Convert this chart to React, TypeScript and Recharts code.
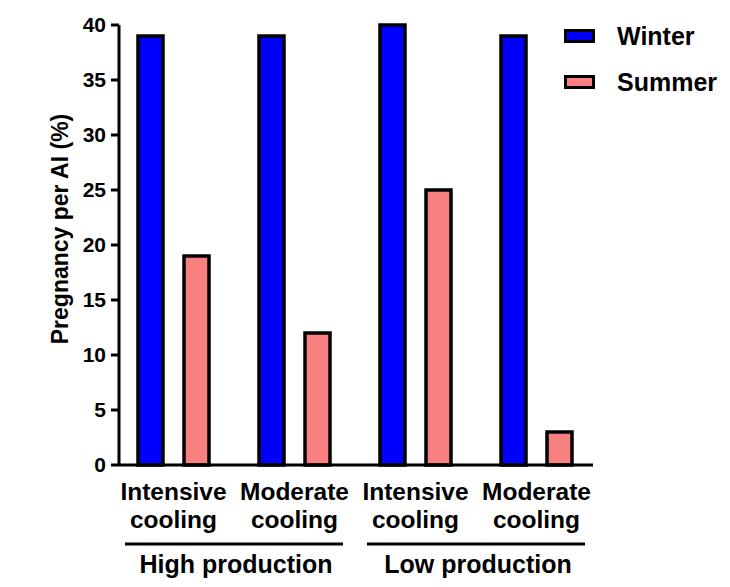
import { BarChart, Bar, XAxis, YAxis } from 'recharts'

const categories = ['Intensive cooling', 'Moderate cooling', 'Intensive cooling', 'Moderate cooling']
const groups = ['High production', 'Low production']
const winter = [39, 39, 40, 39]
const summer = [19, 12, 25, 3]
const yTicks = [0, 5, 10, 15, 20, 25, 30, 35, 40]

const series = [
  { key: 'Winter', color: '#0000FF' },
  { key: 'Summer', color: '#F88080' },
]

const data = categories.map((c, i) => ({ name: c, key: `c${i}`, Winter: winter[i], Summer: summer[i] }))

const FONT = '"Liberation Sans", Arial, sans-serif'
const BAND = 121

function CategoryTick(props: any) {
  const { x, y, index } = props
  const [l1, l2] = categories[index].split(' ')
  const gi = Math.floor(index / 2)
  const cx = x - BAND / 2
  return (
    <g fontFamily={FONT} fontWeight="bold" fill="#000">
      <text x={x} y={y + 35} textAnchor="middle" fontSize={24.5}>{l1}</text>
      <text x={x} y={y + 63} textAnchor="middle" fontSize={24.5}>{l2}</text>
      {index % 2 === 1 && (
        <g>
          <line x1={cx - 109} x2={cx + 109} y1={y + 79} y2={y + 79} stroke="#000" strokeWidth={3} />
          <text x={cx + 2} y={y + 108} textAnchor="middle" fontSize={25}>{groups[gi]}</text>
        </g>
      )}
    </g>
  )
}

function YLabel() {
  return (
    <text
      x={60}
      y={229}
      transform="rotate(-90, 60, 229)"
      textAnchor="middle"
      dominantBaseline="central"
      fontFamily={FONT}
      fontWeight="bold"
      fontSize={23}
      fill="#000"
    >
      Pregnancy per AI (%)
    </text>
  )
}

function ChartLegend() {
  return (
    <div style={{ position: 'absolute', left: 564, top: 13, fontFamily: FONT, fontWeight: 'bold', fontSize: 25 }}>
      {series.map(s => (
        <div key={s.key} style={{ height: 46, display: 'flex', alignItems: 'center' }}>
          <div
            style={{
              width: 31,
              height: 14,
              boxSizing: 'border-box',
              border: '3px solid #000',
              background: s.color,
              marginRight: 22,
            }}
          />
          <span style={{ lineHeight: '25px' }}>{s.key}</span>
        </div>
      ))}
    </div>
  )
}

export default function App() {
  return (
    <div style={{ position: 'absolute', left: 0, top: 0, width: 730, height: 587, background: '#fff' }}>
      <BarChart
        width={730}
        height={587}
        data={data}
        margin={{ top: 25, right: 137, bottom: 0, left: 0 }}
        barSize={25}
        barGap={21}
      >
        <XAxis
          dataKey="key"
          height={122}
          padding={{ left: -6, right: -4 }}
          tickLine={false}
          tickSize={0}
          tickMargin={0}
          axisLine={{ stroke: '#000', strokeWidth: 3 }}
          tick={<CategoryTick />}
          interval={0}
        />
        <YAxis
          width={119}
          domain={[0, 40]}
          ticks={yTicks}
          interval={0}
          tickSize={8}
          tickMargin={5}
          axisLine={{ stroke: '#000', strokeWidth: 3 }}
          tickLine={{ stroke: '#000', strokeWidth: 3 }}
          tick={{ fill: '#000', fontSize: 21, fontWeight: 'bold', fontFamily: FONT }}
          label={<YLabel />}
        />
        {series.map(s => (
          <Bar key={s.key} dataKey={s.key} fill={s.color} stroke="#000" strokeWidth={3.5} isAnimationActive={false} />
        ))}
      </BarChart>
      <ChartLegend />
    </div>
  )
}
